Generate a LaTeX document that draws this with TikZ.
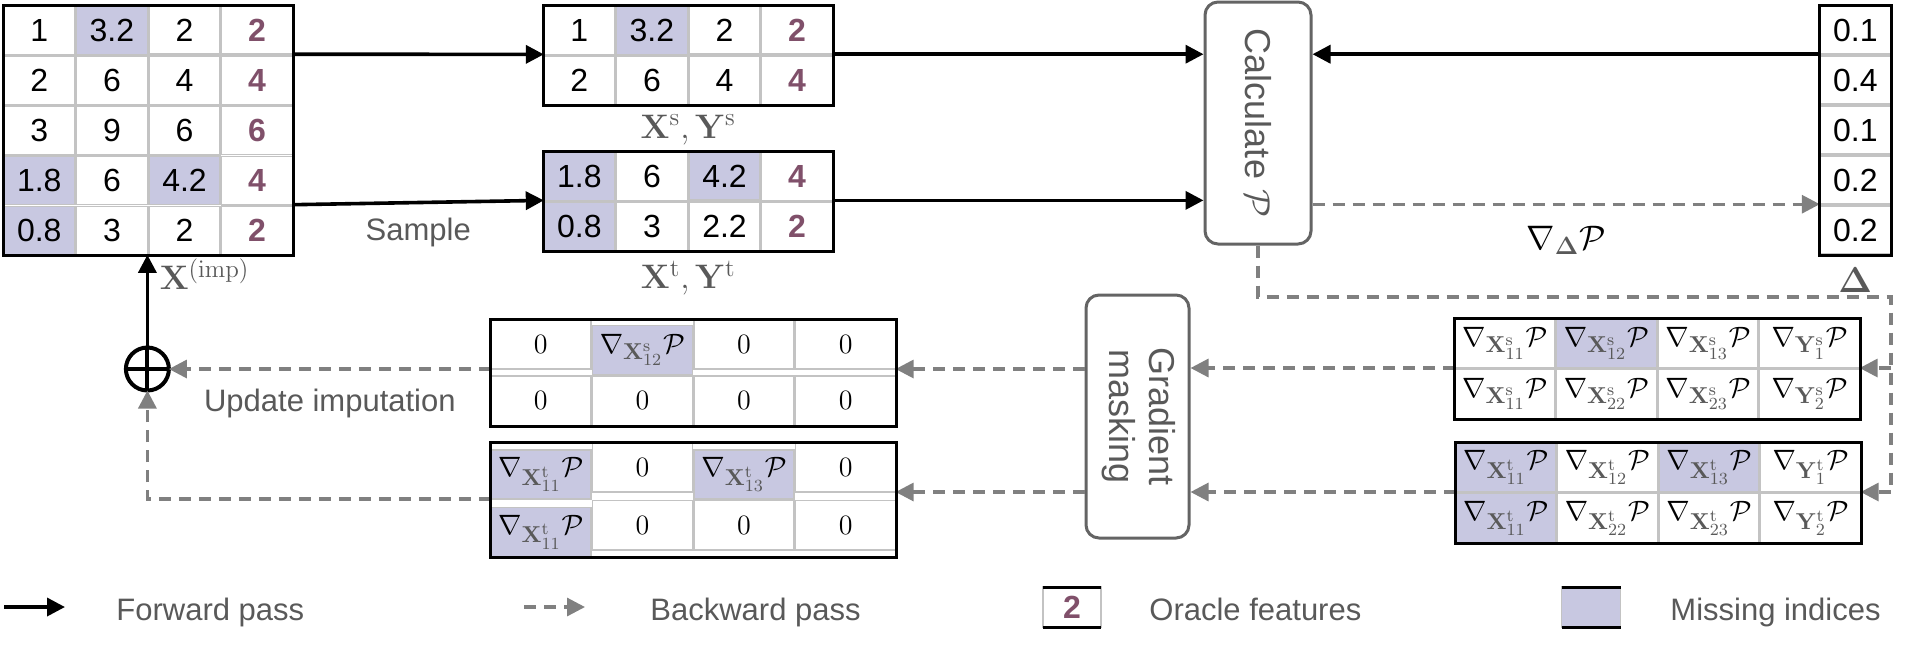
\RequirePackage{fix-cm}
\documentclass[tikz,border=0pt]{standalone}
\usepackage[no-math]{fontspec}
\setmainfont{Liberation Sans}
\usepackage{graphicx}
\usetikzlibrary{matrix,arrows.meta,positioning}

\DeclareMathSizes{14}{14}{11.5}{8.5}
\DeclareMathSizes{17}{17}{12.5}{9.5}

\definecolor{misscol}{RGB}{200,200,225}
\definecolor{orccol}{RGB}{128,80,106}
\definecolor{txtgray}{RGB}{89,89,89}
\definecolor{dashgray}{RGB}{128,128,128}
\definecolor{gridgray}{RGB}{195,195,195}
\definecolor{boxgray}{RGB}{100,100,100}

\newcommand{\gr}[3]{$\nabla_{\textcolor{txtgray}{\mathbf{#1}^{\mathrm{#2}}_{#3}}}\mathcal{P}$}

\tikzset{
  cell/.style={draw=gridgray, line width=0.8pt, minimum width=35.5pt, minimum height=24.2pt,
    inner sep=0pt, outer sep=0pt, font=\fontsize{16}{18}\selectfont},
  gcell/.style={cell, minimum width=50pt, minimum height=24.6pt, font=\fontsize{14}{16}\selectfont},
  miss/.style={fill=misscol},
  orc/.style={text=orccol, font=\fontsize{16}{18}\selectfont\bfseries},
  dat/.style={matrix of nodes, inner sep=0pt, outer sep=0pt, column sep=0pt, row sep=0pt,
    anchor=north west, nodes={cell}},
  gdat/.style={dat, nodes={gcell}},
  frame/.style={draw=black, line width=1.5pt},
  proc/.style={draw=boxgray, line width=1.5pt, rounded corners=6.5pt, text=txtgray,
    inner sep=0pt, font=\fontsize{18}{20}\selectfont},
  lbl/.style={text=txtgray, inner sep=1pt, font=\fontsize{17}{19}\selectfont},
  lgd/.style={text=txtgray, inner sep=0pt, font=\fontsize{15.5}{18}\selectfont},
  fwd/.style={draw=black, line width=1.8pt, -{Triangle[length=9pt,width=9pt]}},
  bwd/.style={draw=dashgray, line width=1.6pt, dash pattern=on 6pt off 4pt,
    -{Triangle[length=9pt,width=9pt]}}
}

\begin{document}
\begin{tikzpicture}[x=0.5pt, y=-0.5pt]
\useasboundingbox (0,0) rectangle (1909,645);

% forward part
\matrix (imp) [dat] at (3,5) {
  1 & |[miss]| 3.2 & 2 & |[orc]| 2 \\
  2 & 6 & 4 & |[orc]| 4 \\
  3 & 9 & 6 & |[orc]| 6 \\
  |[miss]| 1.8 & 6 & |[miss]| 4.2 & |[orc]| 4 \\
  |[miss]| 0.8 & 3 & 2 & |[orc]| 2 \\
};
\matrix (xs) [dat] at (543,5) {
  1 & |[miss]| 3.2 & 2 & |[orc]| 2 \\
  2 & 6 & 4 & |[orc]| 4 \\
};
\matrix (xt) [dat] at (543,151) {
  |[miss]| 1.8 & 6 & |[miss]| 4.2 & |[orc]| 4 \\
  |[miss]| 0.8 & 3 & 2.2 & |[orc]| 2 \\
};
\matrix (dlt) [dat] at (1819,5) {
  0.1 \\ 0.4 \\ 0.1 \\ 0.2 \\ 0.2 \\
};
\node (calc) [proc, minimum width=53pt, minimum height=121pt] at (1258,123)
  {\rotatebox{-90}{Calculate $\mathcal{P}$}};

\node [lbl, below=3.5pt of xs] {$\mathbf{X}^{\mathrm{s}}, \mathbf{Y}^{\mathrm{s}}$};
\node [lbl, below=3.5pt of xt] {$\mathbf{X}^{\mathrm{t}}, \mathbf{Y}^{\mathrm{t}}$};
\node [lbl, below=5pt of dlt, font=\fontsize{18}{20}\selectfont] {$\mathbf{\Delta}$};
\node [lbl, anchor=north west] at ([xshift=5pt,yshift=-0.5pt]imp-5-2.south east)
  {$\mathbf{X}^{(\mathrm{imp})}$};

% backward part
\matrix (gs) [gdat] at (1454,318) {
  \gr{X}{s}{11} & |[miss]| \gr{X}{s}{12} & \gr{X}{s}{13} & \gr{Y}{s}{1} \\
  \gr{X}{s}{11} & \gr{X}{s}{22} & \gr{X}{s}{23} & \gr{Y}{s}{2} \\
};
\matrix (gt) [gdat] at (1455,442) {
  |[miss]| \gr{X}{t}{11} & \gr{X}{t}{12} & |[miss]| \gr{X}{t}{13} & \gr{Y}{t}{1} \\
  |[miss]| \gr{X}{t}{11} & \gr{X}{t}{22} & \gr{X}{t}{23} & \gr{Y}{t}{2} \\
};
\node (mask) [proc, minimum width=51.5pt, minimum height=121.5pt] at (1137.5,416.5)
  {\rotatebox{-90}{\begin{tabular}{@{}c@{}}Gradient\\masking\end{tabular}}};
\matrix (ms) [gdat] at (490,319) {
  $0$ & |[miss]| \gr{X}{s}{12} & $0$ & $0$ \\
  $0$ & $0$ & $0$ & $0$ \\
};
\matrix (mt) [gdat] at (490,442) {
  |[miss]| \gr{X}{t}{11} & $0$ & |[miss]| \gr{X}{t}{13} & $0$ \\
  |[miss]| \gr{X}{t}{11} & $0$ & $0$ & $0$ \\
};
\node (plus) [circle, draw, line width=2pt, minimum size=21.5pt, inner sep=0pt, outer sep=0pt]
  at (imp-5-2.south east |- ms-1-1.south west) {};
\draw[line width=2pt] (plus.north) -- (plus.south) (plus.west) -- (plus.east);
\coordinate (turn) at (1891,297);

% connectors
\draw[fwd] (imp-1-4.south east) -- (xs-1-1.south west);
\draw[fwd] (imp-4-4.south east) -- (xt-1-1.south west)
  node[midway, below=6pt, lbl, font=\fontsize{15.5}{18}\selectfont] {Sample};
\draw[fwd] (xs-1-4.south east) -- (xs-1-4.south east -| calc.west);
\draw[fwd] (xt-1-4.south east) -- (xt-1-4.south east -| calc.west);
\draw[fwd] (dlt-1-1.south west) -- (dlt-1-1.south west -| calc.east);
\draw[bwd] (dlt-4-1.south west -| calc.east) -- (dlt-4-1.south west)
  node[midway, below=9pt, inner sep=1pt, font=\fontsize{17}{19}\selectfont]
  {$\nabla_{\textcolor{txtgray}{\mathbf{\Delta}}}\mathcal{P}$};
\draw[bwd] (calc.south) |- (turn) |- (gt-1-4.south east);
\draw[bwd] (turn |- gs-1-4.south east) -- (gs-1-4.south east);
\draw[bwd] (gs-1-1.south west) -- (gs-1-1.south west -| mask.east);
\draw[bwd] (gt-1-1.south west) -- (gt-1-1.south west -| mask.east);
\draw[bwd] (ms-1-4.south east -| mask.west) -- (ms-1-4.south east);
\draw[bwd] (mt-1-4.south east -| mask.west) -- (mt-1-4.south east);
\draw[bwd] (ms-1-1.south west) -- (plus.east)
  node[midway, below=8pt, lbl, font=\fontsize{15.5}{18}\selectfont] {Update imputation};
\draw[bwd] (mt-1-1.south west) -| (plus.south);
\draw[fwd] (plus.north) -- (imp-5-2.south east);

\foreach \m in {imp,xs,xt,dlt,gs,gt,ms,mt}
  \draw[frame] (\m.north west) rectangle (\m.south east);

% legend
\coordinate (fa) at (4,607);
\coordinate (fb) at (65,607);
\draw[fwd] (fa) -- (fb);
\node [lgd, anchor=base west] at (116,620) {Forward pass};
\coordinate (ba) at (524,607);
\coordinate (bb) at (585,607);
\draw[bwd] (ba) -- (bb);
\node [lgd, anchor=base west] at (650,620) {Backward pass};
\node (korc) [cell, orc, minimum width=29pt, minimum height=20pt] at (1072,607) {2};
\draw[frame] (korc.north west) -- (korc.north east) (korc.south west) -- (korc.south east);
\node [lgd, anchor=base west] at (1149,620) {Oracle features};
\node (kmis) [cell, miss, minimum width=29.5pt, minimum height=20pt] at (1591,607) {};
\draw[frame] (kmis.north west) -- (kmis.north east) (kmis.south west) -- (kmis.south east);
\node [lgd, anchor=base west] at (1670,620) {Missing indices};
\end{tikzpicture}
\end{document}
